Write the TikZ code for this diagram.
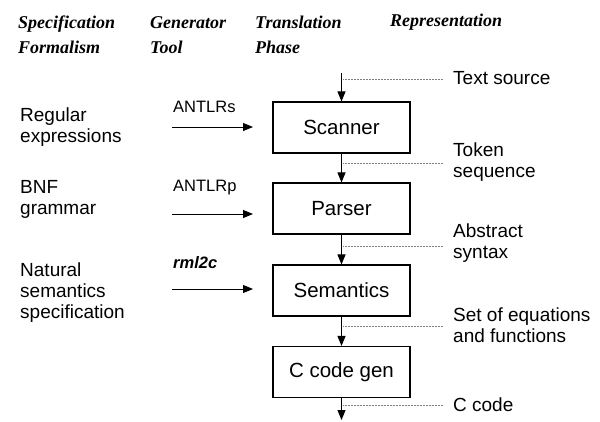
\documentclass[tikz,border=0pt]{standalone}
\usepackage{fontspec}
\setmainfont{Liberation Sans}
\newfontfamily\hdrfont{Liberation Serif}
\usetikzlibrary{arrows.meta}
\begin{document}
\begin{tikzpicture}[x=1pt,y=-1pt,
  hdr/.style={anchor=west,align=left,inner sep=0pt,font=\hdrfont\bfseries\itshape\fontsize{18}{25}\selectfont},
  lbl/.style={anchor=west,align=left,inner sep=0pt,font=\fontsize{19}{21}\selectfont},
  tool/.style={anchor=west,inner sep=0pt,font=\fontsize{16.5}{20}\selectfont},
  phase/.style={draw,line width=1.1pt,minimum width=137pt,minimum height=51pt,inner sep=0pt,font=\fontsize{20.5}{24}\selectfont},
  arr/.style={line width=0.9pt,-{Triangle[width=8pt,length=10pt]}},
  lead/.style={gray,line width=0.5pt,densely dotted}]
\useasboundingbox (0,0) rectangle (600,421);
% headers
\node[hdr] (h1) at (18,35) {Specification\\Formalism};
\node[hdr] (h2) at (150,35) {Generator\\Tool};
\node[hdr] (h3) at (255,35) {Translation\\Phase};
\node[hdr] (h4) at (390,22) {Representation};
% phase boxes
\node[phase] (scan) at (341.5,127.5) {Scanner};
\node[phase] (pars) at (341.5,208.5) {Parser};
\node[phase] (sem) at (341.5,290.5) {Semantics};
\node[phase] (cgen) at (341.5,372) {C code gen};
% vertical arrows
\coordinate (top) at (341.5,73);
\coordinate (bot) at (341.5,420);
\draw[arr] (top) -- (scan.north);
\draw[arr] (scan.south) -- (pars.north);
\draw[arr] (pars.south) -- (sem.north);
\draw[arr] (sem.south) -- (cgen.north);
\draw[arr] (cgen.south) -- (bot);
% representation labels
\node[lbl] (r1) at (453,78) {Text source};
\node[lbl] (r2) at (453,162.5) {Token\\sequence};
\node[lbl] (r3) at (453,243) {Abstract\\syntax};
\node[lbl] (r4) at (453,325) {Set of equations\\and functions};
\node[lbl] (r5) at (453,405) {C code};
\coordinate (d1a) at (343,79);  \coordinate (d1b) at (443,79);
\coordinate (d2a) at (343,163); \coordinate (d2b) at (443,163);
\coordinate (d3a) at (343,246); \coordinate (d3b) at (443,246);
\coordinate (d4a) at (343,326); \coordinate (d4b) at (443,326);
\coordinate (d5a) at (343,405); \coordinate (d5b) at (443,405);
\draw[lead] (d1a) -- (d1b);
\draw[lead] (d2a) -- (d2b);
\draw[lead] (d3a) -- (d3b);
\draw[lead] (d4a) -- (d4b);
\draw[lead] (d5a) -- (d5b);
% specification formalisms
\node[lbl] (s1) at (20,127) {Regular\\expressions};
\node[lbl] (s2) at (20,199) {BNF\\grammar};
\node[lbl] (s3) at (20,293) {Natural\\semantics\\specification};
% tools
\node[tool] (t1) at (173,107) {ANTLRs};
\node[tool] (t2) at (173,188) {ANTLRp};
\node[tool,font=\fontsize{16.5}{20}\selectfont\bfseries\itshape] (t3) at (173,263) {rml2c};
\coordinate (a1a) at (172,127); \coordinate (a1b) at (253,127);
\coordinate (a2a) at (172,214); \coordinate (a2b) at (253,214);
\coordinate (a3a) at (172,289); \coordinate (a3b) at (253,289);
\draw[arr] (a1a) -- (a1b);
\draw[arr] (a2a) -- (a2b);
\draw[arr] (a3a) -- (a3b);
\end{tikzpicture}
\end{document}
